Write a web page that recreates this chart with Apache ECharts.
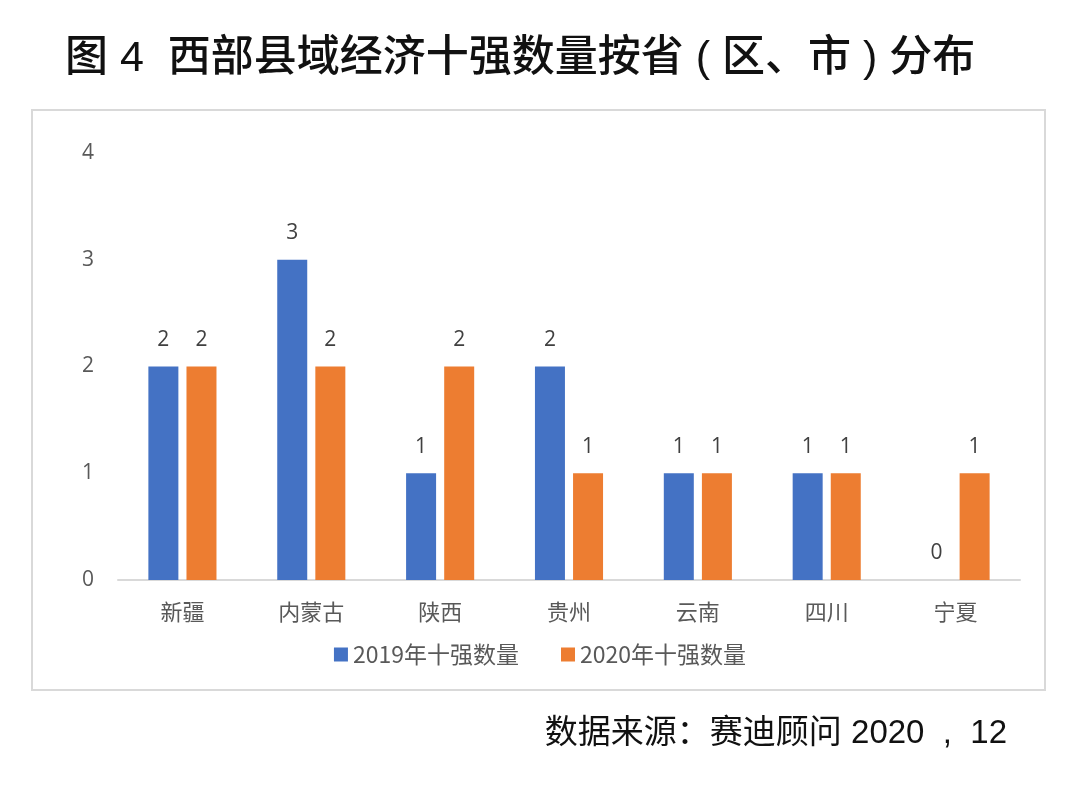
<!DOCTYPE html>
<html>
<head>
<meta charset="utf-8">
<script src="https://cdn.jsdelivr.net/npm/echarts@6/dist/echarts.min.js"></script>
<style>html,body{margin:0;padding:0;background:#fff;}#c{width:1080px;height:794px;}</style>
</head>
<body>
<div id="c"></div>
<script>
const categories = ['新疆','内蒙古','陕西','贵州','云南','四川','宁夏'];
const series2019 = [2,3,1,2,1,1,0];
const series2020 = [2,2,2,1,1,1,1];
const seriesNames = ['2019年十强数量','2020年十强数量'];
const yTicks = [0,1,2,3,4];

const chart = echarts.init(document.getElementById('c'));
const font = '"Noto Sans CJK SC", "Open Sans", sans-serif';
const mixFont = '"Liberation Sans", "Noto Sans CJK SC", sans-serif';
const labelStyle = {show:true, position:'top', distance:16, color:'#404040', fontSize:21, fontFamily:'"Open Sans", "Noto Sans CJK SC", sans-serif'};
chart.setOption({
  animation:false,
  backgroundColor:'#fff',
  title:[{
    text:'图 4  西部县域经济十强数量按省 ( 区、市 ) 分布',
    left:60, top:33,
    textStyle:{fontSize:43, fontWeight:500, color:'#111', fontFamily:mixFont}
  },{
    text:'数据来源：赛迪顾问 2020  ,  12',
    right:68, top:712,
    textStyle:{fontSize:33, fontWeight:400, color:'#111', fontFamily:mixFont}
  }],
  graphic:[{type:'rect', shape:{x:32,y:110,width:1013,height:580}, style:{fill:'none', stroke:'#d9d9d9', lineWidth:2}, z:-1}],
  legend:{
    data:seriesNames, left:'center', top:638, itemWidth:14, itemHeight:14, itemGap:42, icon:'rect',
    textStyle:{fontSize:23, color:'#595959', fontFamily:font}
  },
  grid:{left:118, right:60, top:153, bottom:214},
  xAxis:{
    type:'category', data:categories,
    axisLine:{lineStyle:{color:'#d9d9d9', width:2}}, axisTick:{show:false},
    axisLabel:{color:'#595959', fontSize:22, margin:21, fontFamily:font}
  },
  yAxis:{
    type:'value', min:0, max:4, interval:1,
    splitLine:{show:false}, axisLine:{show:false}, axisTick:{show:false},
    axisLabel:{color:'#595959', fontSize:21, margin:24, fontFamily:'"Open Sans", sans-serif',
      formatter:v=>yTicks.includes(v)?String(v):''}
  },
  series:[
    {name:seriesNames[0], type:'bar', data:series2019, barWidth:30, barGap:'27%', itemStyle:{color:'#4472C4'}, label:labelStyle},
    {name:seriesNames[1], type:'bar', data:series2020, barWidth:30, barGap:'27%', itemStyle:{color:'#ED7D31'}, label:labelStyle}
  ]
});
</script>
</body>
</html>
